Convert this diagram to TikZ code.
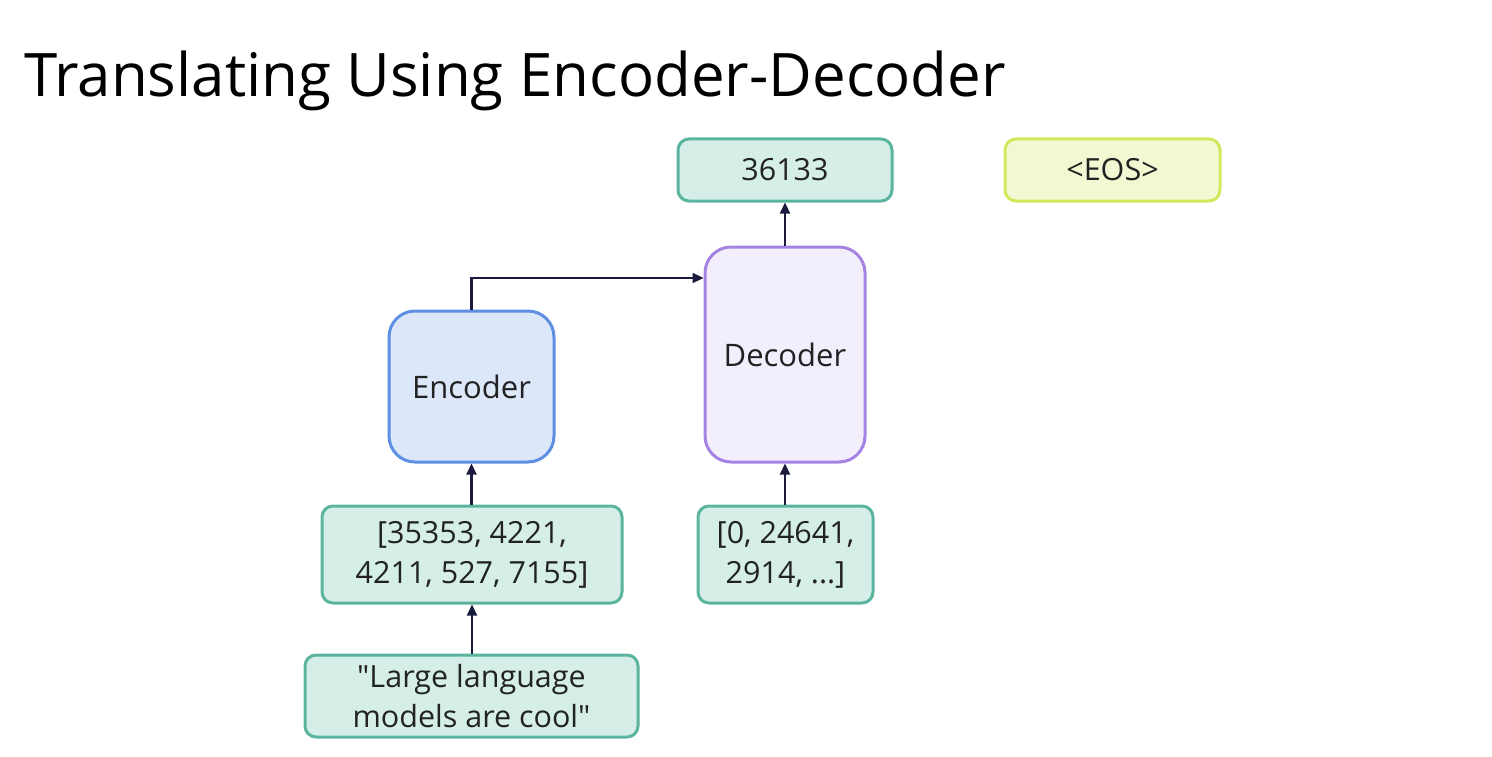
\documentclass[tikz,border=0pt]{standalone}
\usepackage{fontspec}
\setmainfont{Open Sans}[Ligatures=TeXOff]
\usetikzlibrary{arrows.meta}
\definecolor{tealfill}{HTML}{D5EFE8}
\definecolor{tealline}{HTML}{5AB49E}
\definecolor{encfill}{HTML}{DDE7FA}
\definecolor{encline}{HTML}{5E8FE2}
\definecolor{decfill}{HTML}{F3EEFC}
\definecolor{decline}{HTML}{A583E3}
\definecolor{eosfill}{HTML}{F1F8D2}
\definecolor{eosline}{HTML}{D3E75C}
\definecolor{arrowcol}{HTML}{1B1B3F}
\definecolor{txt}{HTML}{222222}
\tikzset{
  box/.style={draw, line width=3pt, rounded corners=11pt, align=center,
    text=txt, font=\fontsize{30.5}{40}\selectfont, inner sep=0pt},
  tokbox/.style={box, fill=tealfill, draw=tealline},
  bigbox/.style={box, rounded corners=26pt, font=\fontsize{31}{40}\selectfont},
  link/.style={draw=arrowcol, line width=2.2pt, -{Triangle[length=11pt,width=10pt]}}
}
\begin{document}
\begin{tikzpicture}[x=1pt,y=-1pt]
\useasboundingbox (0,0) rectangle (1492,757);
\node[anchor=base west, text=black, font=\fontsize{60}{66}\selectfont, inner sep=0pt] (title) at (24,97) {Translating Using Encoder-Decoder};

\node[tokbox, minimum width=214pt, minimum height=62pt] (out) at (785,170) {36133};
\node[box, fill=eosfill, draw=eosline, minimum width=215pt, minimum height=62pt] (eos) at (1112.5,170) {<EOS>};
\node[bigbox, fill=decfill, draw=decline, minimum width=160pt, minimum height=215pt] (dec) at (785,354.5) {Decoder};
\node[bigbox, fill=encfill, draw=encline, minimum width=165pt, minimum height=151pt] (enc) at (471.5,386.5) {Encoder};
\node[tokbox, minimum width=300pt, minimum height=97pt] (enctok) at (472,554.5) {[35353, 4221,\\4211, 527, 7155]};
\node[tokbox, minimum width=175pt, minimum height=97pt] (dectok) at (785.5,554.5) {[0, 24641,\\2914, ...]};
\node[tokbox, minimum width=333pt, minimum height=82pt] (src) at (471.5,696) {"Large language\\models are cool"};

\draw[link] (src.north -| enctok.south) -- (enctok.south);
\draw[link] (enctok.north -| enc.south) -- (enc.south);
\draw[link] (enc.north) |- (dec.west |- 0,278);
\draw[link] (dectok.north -| dec.south) -- (dec.south);
\draw[link] (dec.north) -- (out.south);
\end{tikzpicture}
\end{document}
